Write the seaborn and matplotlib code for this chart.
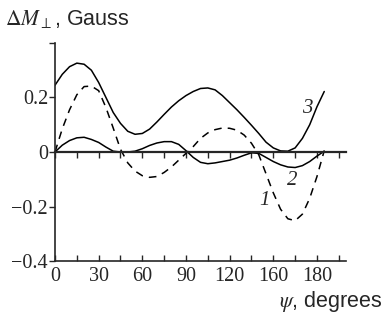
import numpy as np
import pandas as pd
import matplotlib
matplotlib.use('Agg')
import matplotlib.pyplot as plt
import seaborn as sns

# angle grid, degrees
psi = [0, 5, 10, 15, 20, 25, 30, 35, 40, 45, 50, 55, 60, 65, 70, 75, 80, 85, 90,
       95, 100, 105, 110, 115, 120, 125, 130, 135, 140, 145, 150, 155, 160, 165,
       170, 175, 180, 185]

# curve 1 (dashed)
curve1 = [0.0, 0.085, 0.155, 0.21, 0.24, 0.242, 0.225, 0.163, 0.088, 0.01,
          -0.04, -0.07, -0.087, -0.093, -0.09, -0.075, -0.055, -0.03, -0.005,
          0.02, 0.05, 0.07, 0.082, 0.088, 0.087, 0.08, 0.062, 0.032, -0.01,
          -0.08, -0.15, -0.21, -0.245, -0.252, -0.228, -0.17, -0.09, 0.005]

# curve 2 (small solid)
curve2 = [0.0, 0.025, 0.042, 0.052, 0.054, 0.046, 0.035, 0.018, 0.003, 0.0,
          0.0, 0.003, 0.012, 0.024, 0.033, 0.038, 0.038, 0.028, 0.005,
          -0.02, -0.038, -0.043, -0.04, -0.035, -0.03, -0.022, -0.012, -0.003,
          -0.005, -0.02, -0.035, -0.047, -0.055, -0.057, -0.05, -0.035, -0.015, 0.003]

# curve 3 (upper solid)
curve3 = [0.245, 0.285, 0.313, 0.326, 0.322, 0.30, 0.255, 0.2, 0.145, 0.105,
          0.076, 0.065, 0.068, 0.084, 0.11, 0.138, 0.165, 0.188, 0.207,
          0.222, 0.233, 0.235, 0.228, 0.207, 0.181, 0.155, 0.127, 0.098, 0.068,
          0.036, 0.015, 0.004, 0.003, 0.015, 0.05, 0.1, 0.166, 0.222]

xtick_pos = [0, 30, 60, 90, 120, 150, 180]
xtick_lab = ['0', '30', '60', '90', '120', '160', '180']
ytick_pos = [-0.4, -0.2, 0, 0.2, 0.4]
ytick_lab = ['\u22120.4', '\u22120.2', '0', '0.2', '']

df = pd.DataFrame({'psi': psi, 'c1': curve1, 'c2': curve2, 'c3': curve3})

sns.set_style('ticks')
plt.rcParams['font.family'] = ['Liberation Serif', 'DejaVu Serif']
plt.rcParams['mathtext.fontset'] = 'stix'

fig = plt.figure(figsize=(3.83, 3.16), dpi=100)
ax = fig.add_axes([0.1436, 0.174, 0.76, 0.69])

sns.lineplot(data=df, x='psi', y='c3', ax=ax, color='black', lw=1.1)
sns.lineplot(data=df, x='psi', y='c2', ax=ax, color='black', lw=1.1)
sns.lineplot(data=df, x='psi', y='c1', ax=ax, color='black', lw=1.1,
             linestyle=(0, (5, 4)))

ax.set_xlim(0, 200)
ax.set_ylim(-0.4, 0.4)

# zero line acts as a second x axis
ax.spines['top'].set_position(('data', 0))
ax.spines['top'].set_linewidth(1.6)
ax.spines['right'].set_visible(False)
ax.spines['left'].set_linewidth(1.2)
ax.spines['bottom'].set_linewidth(1.2)

ax.set_xticks(xtick_pos)
ax.set_xticklabels(xtick_lab)
ax.set_xticks(np.arange(15, 200, 30), minor=True)
ax.tick_params(axis='x', which='both', direction='in', top=True, bottom=True,
               labeltop=False, length=4, width=1.0, labelsize=14.5, pad=4)
ax.set_yticks(ytick_pos)
ax.set_yticklabels(ytick_lab)
ax.tick_params(axis='y', which='both', direction='out', length=4, width=1.0,
               labelsize=14.5, pad=1)

ax.set_xlabel('')
ax.set_ylabel('')

ax.text(144, -0.178, '1', fontsize=15, style='italic', ha='center', va='center')
ax.text(163, -0.105, '2', fontsize=15, style='italic', ha='center', va='center')
ax.text(173, 0.16, '3', fontsize=15, style='italic', ha='center', va='center')

fig.text(0.012, 0.94, r'$\Delta M_{\perp}$, Gauss', fontsize=15.5,
         family=['Liberation Sans', 'DejaVu Sans'], va='center', ha='left')
fig.text(0.998, 0.045, r'$\psi$, degrees', fontsize=15.5,
         family=['Liberation Sans', 'DejaVu Sans'], va='center', ha='right')

fig.savefig('out.png', dpi=100)
